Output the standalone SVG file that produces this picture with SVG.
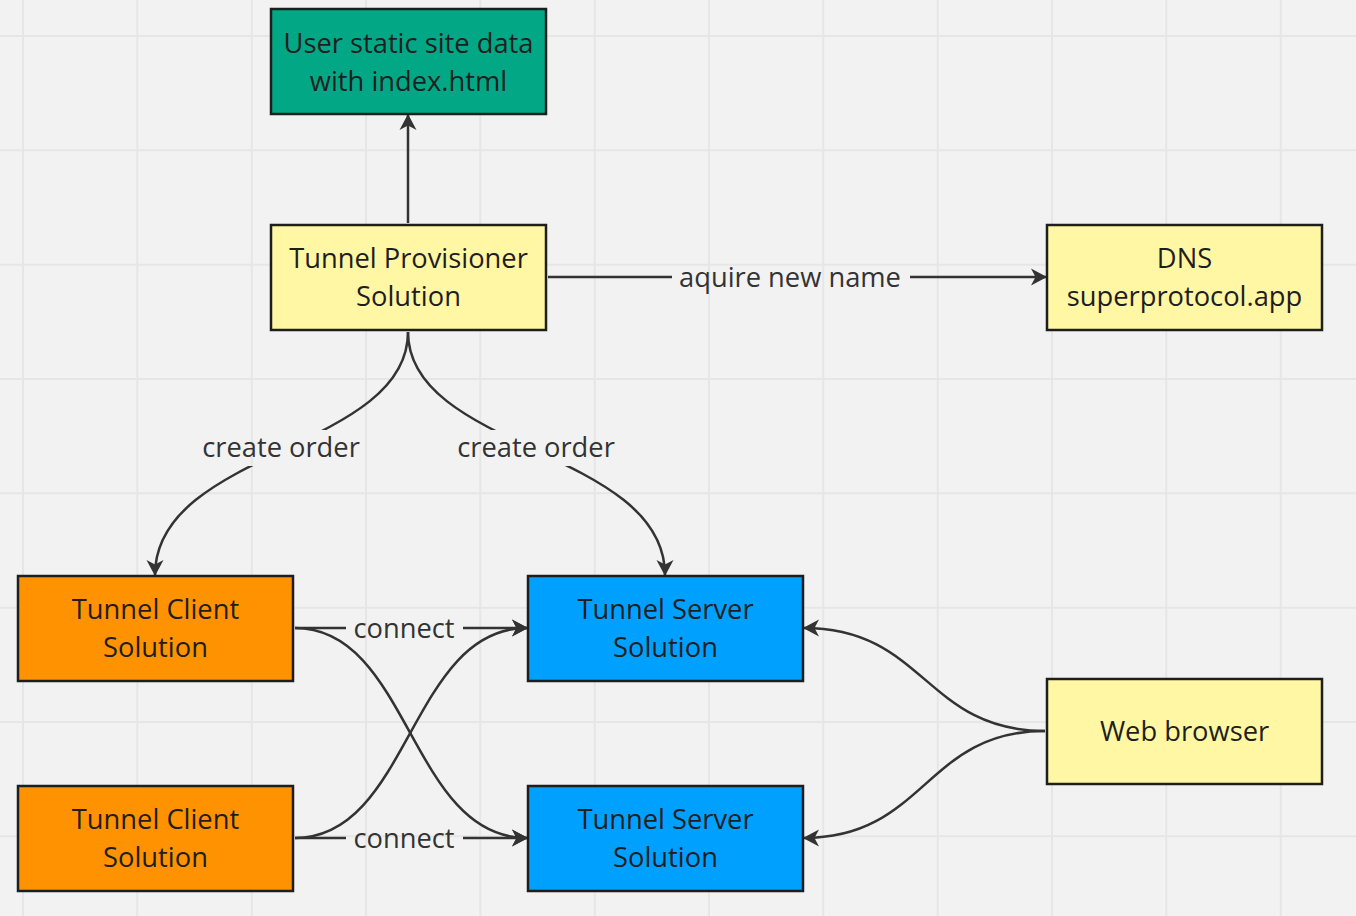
<svg xmlns="http://www.w3.org/2000/svg" width="1356" height="916" viewBox="0 0 1356 916">
<style>
.grid line{stroke:#e6e6e6;stroke-width:2}
.box{stroke:#1e1e1e;stroke-width:2.5}
.ntext{font-family:"Open Sans","Noto Sans",sans-serif;font-size:27.3px;fill:#1e1e1e;text-anchor:middle}
.ltext{font-family:"Open Sans","Noto Sans",sans-serif;font-size:27.3px;fill:#333333;text-anchor:middle}
.conn path{fill:none;stroke:#333333;stroke-width:2.5}
.arr{marker-end:url(#ah)}
</style>
<defs>
<marker id="ah" viewBox="0 0 16 18" refX="15" refY="9" markerWidth="16" markerHeight="18" markerUnits="userSpaceOnUse" orient="auto">
<path d="M0,0.5 L16,9 L0,17.5 L4.5,9 z" fill="#333333"/>
</marker>
<mask id="cmask" maskUnits="userSpaceOnUse" x="0" y="0" width="1356" height="916">
<rect x="0" y="0" width="1356" height="916" fill="#fff"/>
<rect x="190" y="430" width="180" height="36" fill="#000"/>
<rect x="445" y="430" width="180" height="36" fill="#000"/>
</mask>
</defs>
<rect width="1356" height="916" fill="#f2f2f2"/>
<g class="grid">
<line x1="23" y1="0" x2="23" y2="916"/>
<line x1="137.3" y1="0" x2="137.3" y2="916"/>
<line x1="251.7" y1="0" x2="251.7" y2="916"/>
<line x1="366" y1="0" x2="366" y2="916"/>
<line x1="480.3" y1="0" x2="480.3" y2="916"/>
<line x1="594.7" y1="0" x2="594.7" y2="916"/>
<line x1="709" y1="0" x2="709" y2="916"/>
<line x1="823.3" y1="0" x2="823.3" y2="916"/>
<line x1="937.7" y1="0" x2="937.7" y2="916"/>
<line x1="1052" y1="0" x2="1052" y2="916"/>
<line x1="1166.3" y1="0" x2="1166.3" y2="916"/>
<line x1="1280.7" y1="0" x2="1280.7" y2="916"/>
<line x1="0" y1="36" x2="1356" y2="36"/>
<line x1="0" y1="150.3" x2="1356" y2="150.3"/>
<line x1="0" y1="264.7" x2="1356" y2="264.7"/>
<line x1="0" y1="379" x2="1356" y2="379"/>
<line x1="0" y1="493.3" x2="1356" y2="493.3"/>
<line x1="0" y1="607.7" x2="1356" y2="607.7"/>
<line x1="0" y1="722" x2="1356" y2="722"/>
<line x1="0" y1="836.3" x2="1356" y2="836.3"/>
</g>
<g class="conn" id="connectors">
<path class="arr" d="M408,223 V115"/>
<path d="M548,277 H672"/>
<path class="arr" d="M910,277 H1046"/>
<g mask="url(#cmask)">
<path class="arr" d="M408,332 C408,450 155,450 155,575"/>
<path class="arr" d="M408,332 C408,450 665,450 665,575"/>
</g>
<path d="M295,628 H346"/>
<path class="arr" d="M463,628 H527"/>
<path d="M295,838 H346"/>
<path class="arr" d="M463,838 H527"/>
<path class="arr" d="M295,628 C410,628 410,838 527,838"/>
<path class="arr" d="M295,838 C410,838 410,628 527,628"/>
<path class="arr" d="M1045,731 C925,731 925,628 804,628"/>
<path class="arr" d="M1045,731 C925,731 925,838 804,838"/>
<text class="ltext" x="790" y="287">aquire new name</text>
<text class="ltext" x="281" y="457">create order</text>
<text class="ltext" x="536" y="457">create order</text>
<text class="ltext" x="404" y="638">connect</text>
<text class="ltext" x="404" y="848">connect</text>
</g>
<g id="user-static">
<rect class="box" x="271" y="9" width="275" height="105" fill="#02a886"/>
<text class="ntext" x="408.5" y="53">User static site data</text>
<text class="ntext" x="408.5" y="91">with index.html</text>
</g>
<g id="provisioner">
<rect class="box" x="271" y="225" width="275" height="105" fill="#fff7a3"/>
<text class="ntext" x="408.5" y="268">Tunnel Provisioner</text>
<text class="ntext" x="408.5" y="306">Solution</text>
</g>
<g id="dns">
<rect class="box" x="1047" y="225" width="275" height="105" fill="#fff7a3"/>
<text class="ntext" x="1184.5" y="268">DNS</text>
<text class="ntext" x="1184.5" y="306">superprotocol.app</text>
</g>
<g id="client1">
<rect class="box" x="18" y="576" width="275" height="105" fill="#ff9200"/>
<text class="ntext" x="155.5" y="619">Tunnel Client</text>
<text class="ntext" x="155.5" y="657">Solution</text>
</g>
<g id="client2">
<rect class="box" x="18" y="786" width="275" height="105" fill="#ff9200"/>
<text class="ntext" x="155.5" y="829">Tunnel Client</text>
<text class="ntext" x="155.5" y="867">Solution</text>
</g>
<g id="server1">
<rect class="box" x="528" y="576" width="275" height="105" fill="#00a0ff"/>
<text class="ntext" x="665.5" y="619">Tunnel Server</text>
<text class="ntext" x="665.5" y="657">Solution</text>
</g>
<g id="server2">
<rect class="box" x="528" y="786" width="275" height="105" fill="#00a0ff"/>
<text class="ntext" x="665.5" y="829">Tunnel Server</text>
<text class="ntext" x="665.5" y="867">Solution</text>
</g>
<g id="browser">
<rect class="box" x="1047" y="679" width="275" height="105" fill="#fff7a3"/>
<text class="ntext" x="1184.5" y="741">Web browser</text>
</g>
</svg>
